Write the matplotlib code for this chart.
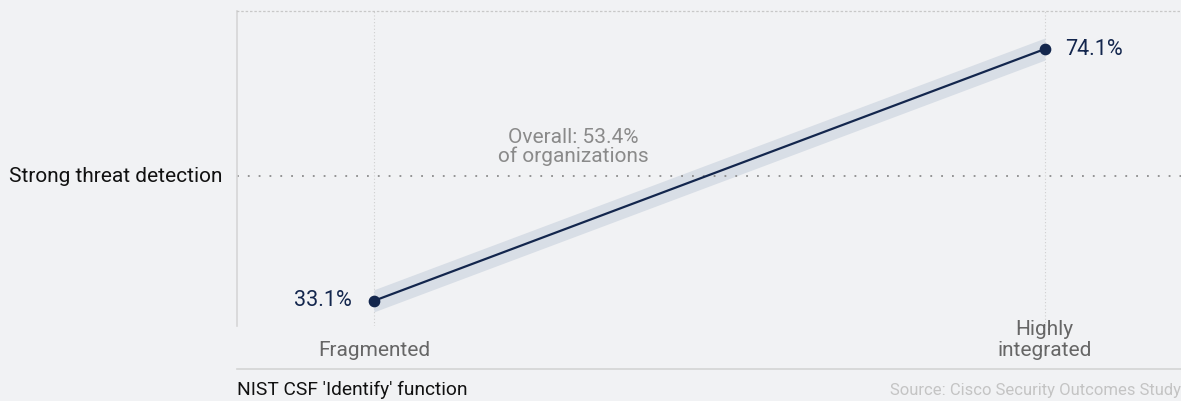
import matplotlib
matplotlib.use("Agg")
import matplotlib.pyplot as plt
from matplotlib.lines import Line2D

# Share of organizations with strong threat detection, by integration level
levels = ["Fragmented", "Highly\nintegrated"]
strong_detection = [33.1, 74.1]
band_low = [31.3, 72.3]
band_high = [34.9, 75.9]
overall = 53.4

plt.rcParams['font.family'] = ['Roboto', 'DejaVu Sans']

bg = '#f1f2f4'
navy = '#13264d'

fig = plt.figure(figsize=(11.81, 4.01), dpi=100, facecolor=bg)
ax = fig.add_axes([0.2007, 0.187, 0.7993, 0.7856], facecolor=bg)

xs = list(range(len(levels)))
ax.fill_between(xs, band_low, band_high, color='#d8dee6', linewidth=0, zorder=1)
ax.plot(xs, strong_detection, color=navy, linewidth=1.6, zorder=3)
ax.scatter(xs, strong_detection, s=55, color=navy, zorder=4)

# overall reference line
ax.axhline(overall, color='#8c8c8c', linestyle=(0, (1, 5)), linewidth=1.3, zorder=2)
ax.text(0.2966, overall + 2.3, f"Overall: {overall}%\nof organizations", ha='center',
        va='baseline', fontsize=15, color='#8a8a8a', linespacing=0.95)

# vertical guides at each level
for x in xs:
    ax.axvline(x, color='#cfcfcf', linestyle=(0, (1, 2)), linewidth=0.8, zorder=0)

ax.set_xlim(-0.204, 1.203)
ax.set_ylim(29.0, 80.3)

for s in ['right', 'bottom']:
    ax.spines[s].set_visible(False)
ax.spines['left'].set_color('#d6d6d6')
ax.spines['left'].set_linewidth(1.2)
ax.spines['top'].set_color('#c8c8c8')
ax.spines['top'].set_linestyle((0, (1, 2.5)))
ax.spines['top'].set_linewidth(0.9)
ax.set_xticks([])
ax.set_yticks([])

# value labels
ax.text(xs[0] - 0.033, strong_detection[0], f"{strong_detection[0]}%", ha='right', va='center',
        fontsize=15.5, color=navy)
ax.text(xs[1] + 0.031, strong_detection[1], f"{strong_detection[1]}%", ha='left', va='center',
        fontsize=15.5, color=navy)

# category labels below the plot
trans = ax.get_xaxis_transform()
for x, lab in zip(xs, levels):
    ax.text(x, -0.095, lab, transform=trans, ha='center', va='baseline', fontsize=15,
            color='#666666', linespacing=1.15, clip_on=False)

ax.text(-0.015, overall, "Strong threat detection", transform=ax.get_yaxis_transform(),
        ha='right', va='center', fontsize=15, color='#111111', clip_on=False)

fig.add_artist(Line2D([237 / 1181, 1.0], [1 - 369 / 401] * 2, color='#d4d4d4', linewidth=1.2))
fig.text(237 / 1181, 1 - 390 / 401, "NIST CSF 'Identify' function", ha='left', va='center',
         fontsize=13.75, color='#111111')
fig.text(1.0, 1 - 391 / 401, "Source: Cisco Security Outcomes Study", ha='right', va='center',
         fontsize=12, color='#c4c4c4')

fig.savefig("out.png", dpi=100, facecolor=bg)
